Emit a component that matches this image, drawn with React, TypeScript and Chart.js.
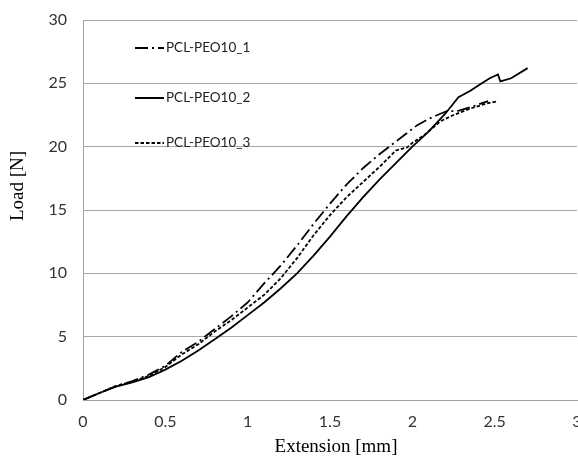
import React, { useEffect, useRef } from "react";
import { Chart, registerables } from "chart.js";

Chart.register(...registerables);

const seriesNames = ["PCL-PEO10_1", "PCL-PEO10_2", "PCL-PEO10_3"];
const xTitle = "Extension [mm]";
const yTitle = "Load [N]";

const extension1 = [0, 0.1, 0.2, 0.3, 0.4, 0.5, 0.6, 0.7, 0.8, 0.9, 1.0, 1.1, 1.2, 1.3, 1.4, 1.5, 1.6, 1.7, 1.8, 1.86, 1.95, 2.03, 2.1, 2.17, 2.21, 2.27, 2.35, 2.46];
const load1 = [0, 0.55, 1.1, 1.5, 2.0, 2.7, 3.8, 4.6, 5.6, 6.6, 7.7, 9.2, 10.6, 12.2, 13.9, 15.5, 17.0, 18.3, 19.4, 20.0, 20.9, 21.7, 22.2, 22.6, 22.8, 22.8, 23.1, 23.6];

const extension2 = [0, 0.1, 0.2, 0.3, 0.4, 0.5, 0.6, 0.7, 0.8, 0.9, 1.0, 1.1, 1.2, 1.3, 1.4, 1.5, 1.6, 1.7, 1.8, 1.9, 2.0, 2.1, 2.2, 2.28, 2.35, 2.41, 2.47, 2.52, 2.535, 2.6, 2.7];
const load2 = [0, 0.55, 1.05, 1.4, 1.8, 2.4, 3.1, 3.9, 4.8, 5.7, 6.7, 7.7, 8.8, 10.0, 11.4, 12.9, 14.5, 16.0, 17.4, 18.7, 20.0, 21.2, 22.6, 23.9, 24.4, 24.9, 25.4, 25.7, 25.15, 25.4, 26.2];

const extension3 = [0, 0.1, 0.2, 0.3, 0.4, 0.5, 0.6, 0.7, 0.8, 0.9, 1.0, 1.1, 1.2, 1.3, 1.4, 1.5, 1.6, 1.7, 1.8, 1.9, 1.97, 2.0, 2.07, 2.17, 2.25, 2.35, 2.45, 2.52];
const load3 = [0, 0.55, 1.1, 1.45, 1.9, 2.6, 3.6, 4.4, 5.4, 6.3, 7.3, 8.3, 9.6, 11.2, 13.0, 14.6, 16.0, 17.2, 18.4, 19.7, 19.95, 20.3, 20.9, 22.0, 22.5, 23.0, 23.4, 23.6];

const xMin = 0;
const xMax = 3;
const xStep = 0.5;
const yMin = 0;
const yMax = 30;
const yStep = 5;

const toPoints = (xs: number[], ys: number[]) => xs.map((x, i) => ({ x, y: ys[i] }));
const formatTick = (v: any) => String(Number(v));

const dashes: number[][] = [[13, 4, 2, 4], [], [3.5, 2]];
const legendRows = [48, 98, 143];

const overlayPlugin = {
  id: "overlay",
  afterDraw(chart: any) {
    const ctx = chart.ctx as CanvasRenderingContext2D;
    ctx.save();
    ctx.fillStyle = "#000";
    ctx.font = '19px "Liberation Serif"';
    ctx.textAlign = "center";
    ctx.textBaseline = "middle";
    ctx.fillText(xTitle, 336, 447);
    ctx.save();
    ctx.translate(18, 186);
    ctx.rotate(-Math.PI / 2);
    ctx.fillText(yTitle, 0, 0);
    ctx.restore();
    chart.data.datasets.forEach((ds: any, i: number) => {
      const y = legendRows[i];
      ctx.beginPath();
      ctx.setLineDash(dashes[i]);
      ctx.lineWidth = 2;
      ctx.strokeStyle = "#000";
      ctx.moveTo(135, y);
      ctx.lineTo(164, y);
      ctx.stroke();
      ctx.setLineDash([]);
      ctx.fillStyle = "#222";
      ctx.font = "13.5px Lato";
      ctx.textAlign = "left";
      ctx.textBaseline = "middle";
      ctx.fillText(ds.label, 166, y);
    });
    ctx.restore();
  },
};

export default function App() {
  const ref = useRef<HTMLCanvasElement>(null);
  useEffect(() => {
    const chart = new Chart(ref.current as HTMLCanvasElement, {
      type: "line",
      data: {
        datasets: [
          { label: seriesNames[0], data: toPoints(extension1, load1), borderColor: "#000", borderWidth: 1.8, borderDash: dashes[0], pointRadius: 0, tension: 0 },
          { label: seriesNames[1], data: toPoints(extension2, load2), borderColor: "#000", borderWidth: 1.8, borderDash: dashes[1], pointRadius: 0, tension: 0 },
          { label: seriesNames[2], data: toPoints(extension3, load3), borderColor: "#000", borderWidth: 1.8, borderDash: dashes[2], pointRadius: 0, tension: 0 },
        ],
      },
      options: {
        animation: false,
        responsive: false,
        devicePixelRatio: 1,
        layout: { padding: { top: 20, right: 23, left: 0, bottom: 0 } },
        plugins: { legend: { display: false }, tooltip: { enabled: false } },
        scales: {
          x: {
            type: "linear",
            min: xMin,
            max: xMax,
            ticks: { stepSize: xStep, color: "#333", font: { family: "Lato", size: 16 }, padding: 12, maxRotation: 0, callback: formatTick },
            grid: { display: false, drawTicks: false },
            border: { display: true, color: "#a0a0a0", width: 1 },
            afterFit: (s: any) => { s.height = 56; s.paddingLeft = 0; s.paddingRight = 0; },
          },
          y: {
            min: yMin,
            max: yMax,
            ticks: { stepSize: yStep, color: "#333", font: { family: "Lato", size: 16 }, padding: 16, callback: formatTick },
            grid: { color: "#a6a6a6", drawTicks: false, lineWidth: 1 },
            border: { display: true, color: "#a0a0a0", width: 1 },
            afterFit: (s: any) => { s.width = 83; s.paddingTop = 0; s.paddingBottom = 0; },
          },
        },
      },
      plugins: [overlayPlugin],
    });
    return () => chart.destroy();
  }, []);
  return (
    <div style={{ position: "fixed", left: 0, top: 0, width: 578, height: 456, overflow: "hidden", background: "#fff" }}>
      <canvas ref={ref} width={600} height={456} style={{ display: "block", width: 600, height: 456 }} />
    </div>
  );
}
